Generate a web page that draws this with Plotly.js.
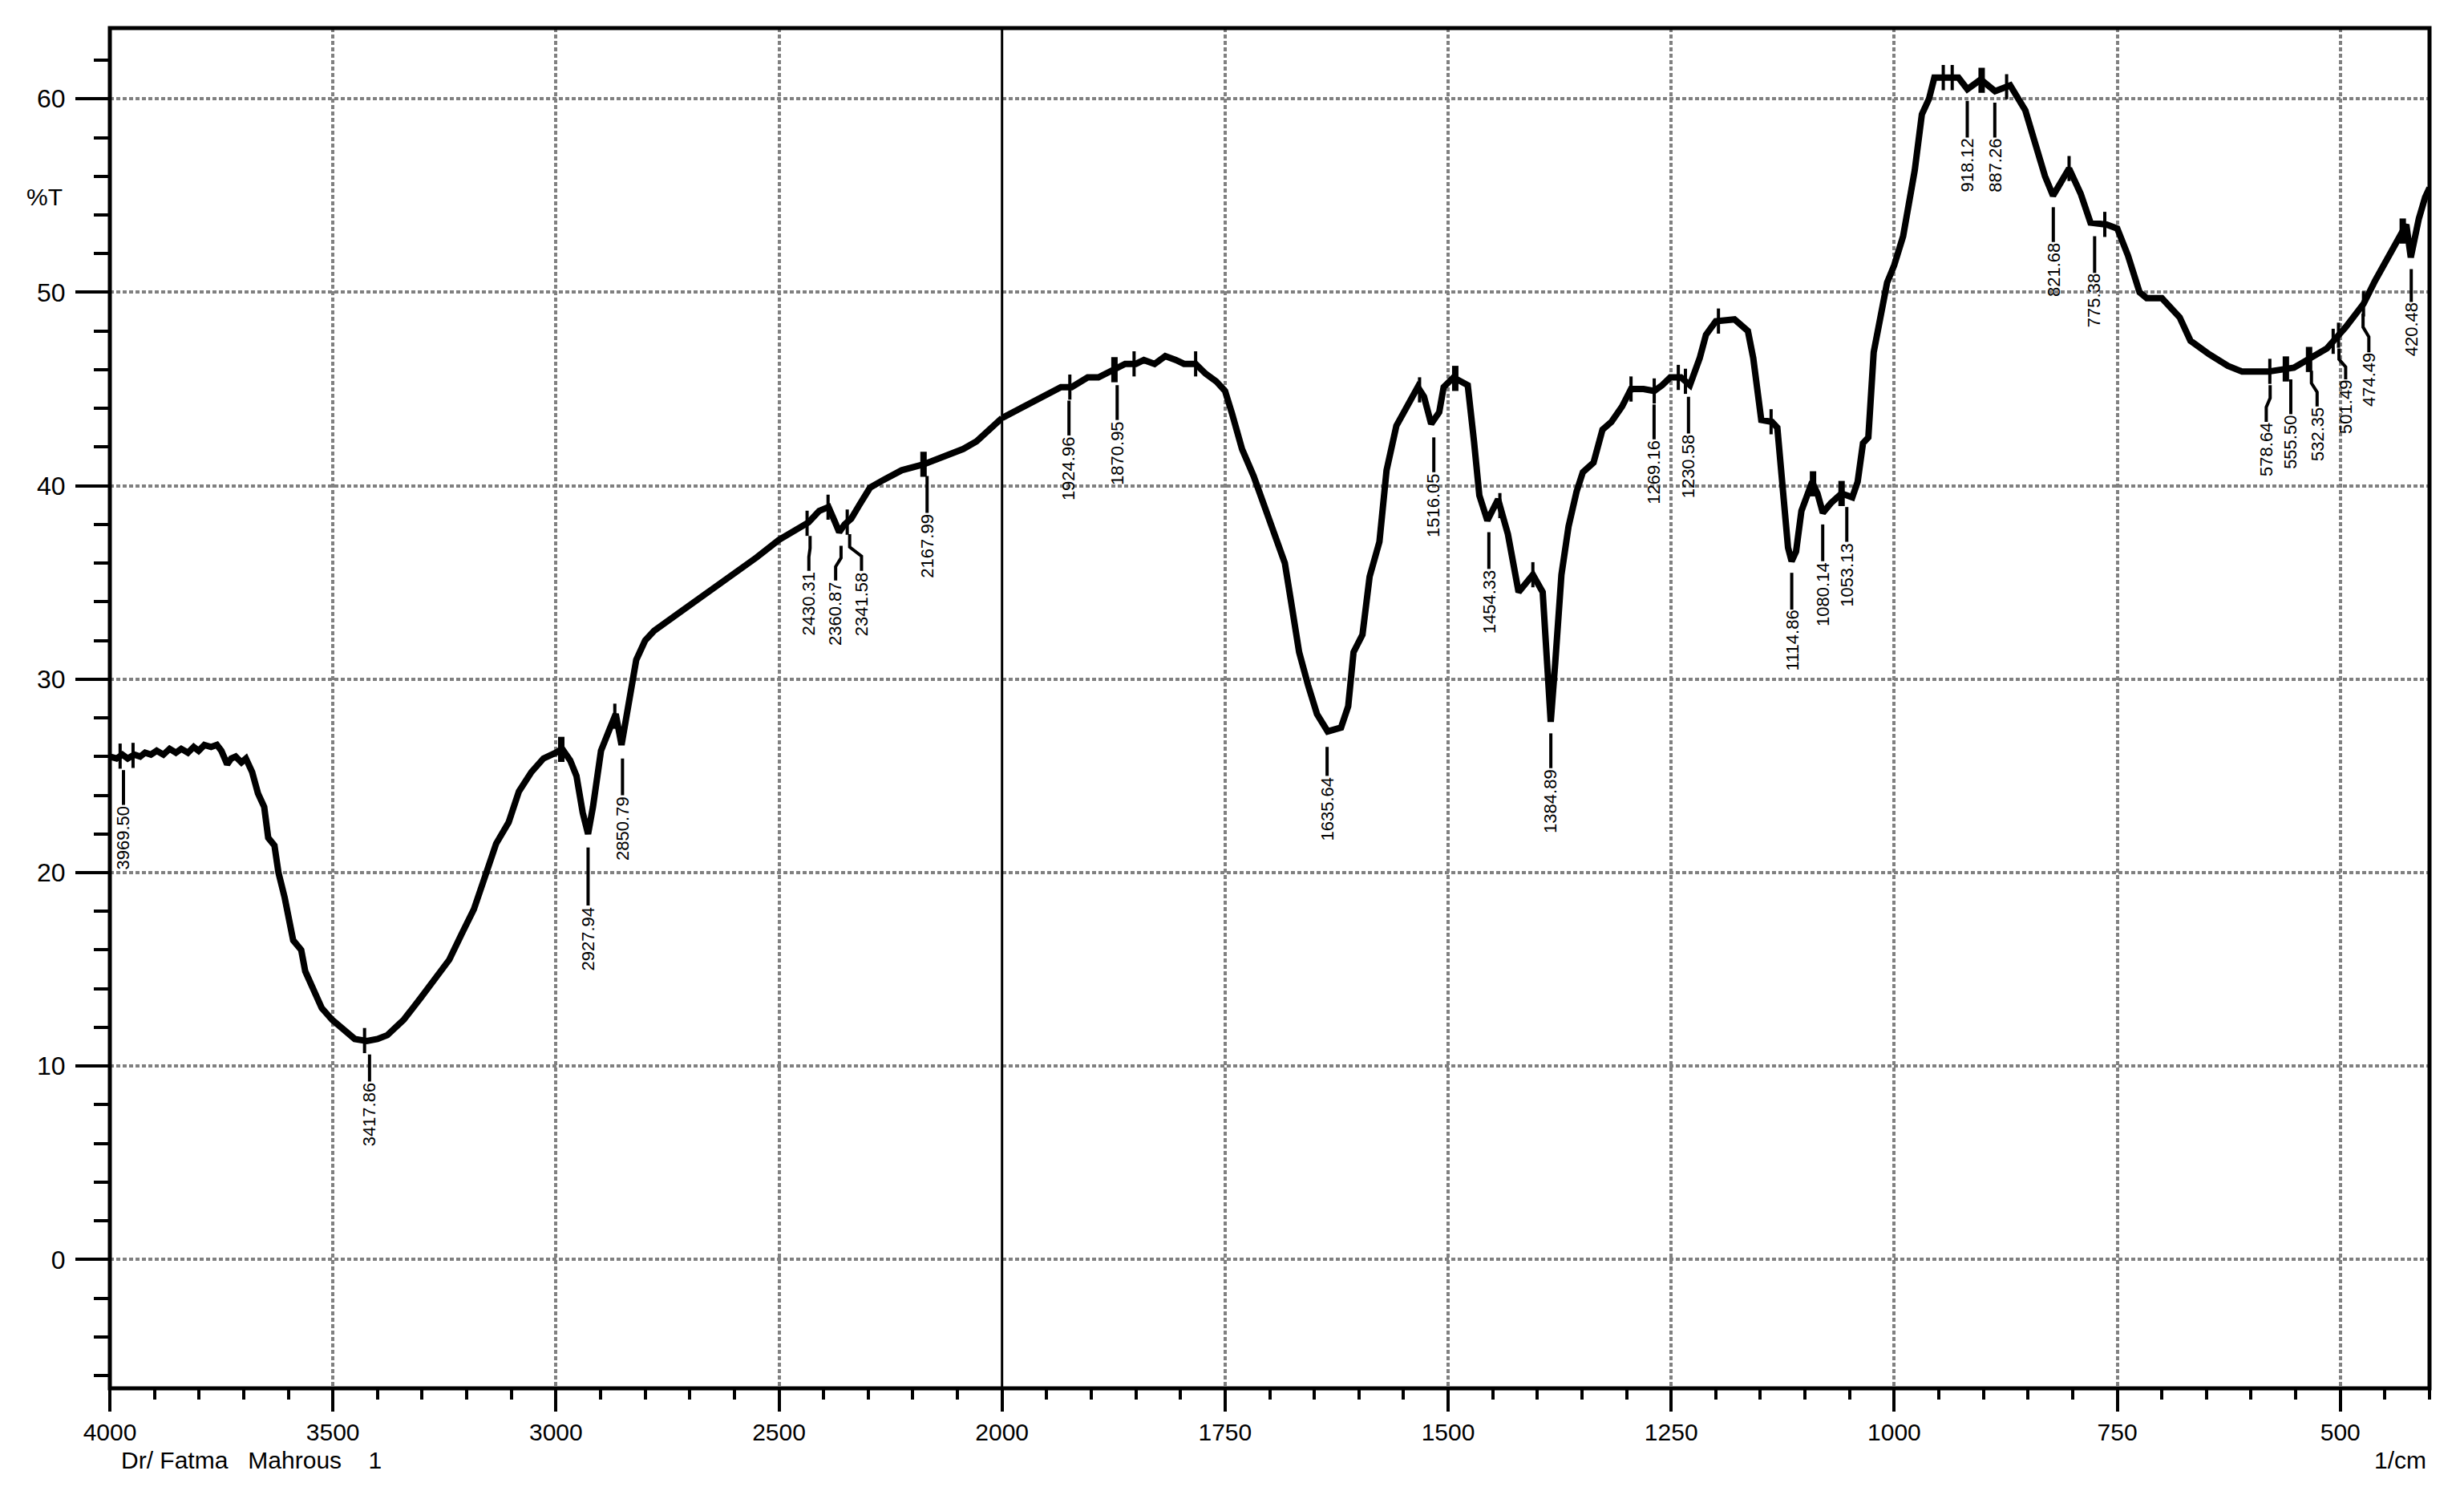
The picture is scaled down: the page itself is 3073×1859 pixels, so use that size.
<!DOCTYPE html>
<html>
<head>
<meta charset="utf-8">
<script src="https://cdn.plot.ly/plotly-3.0.1.min.js"></script>
<style>html,body{margin:0;padding:0;background:#fff;}#chart{width:3073px;height:1859px;}</style>
</head>
<body>
<div id="chart"></div>
<script>
// ---- spectrum (wavenumber 1/cm, %T) ----
const wavenumber = [4000,3985,3972,3960,3945,3932,3921,3908,3895,3880,3866,3852,3840,3825,3812,3801,3788,3773,3760,3750,3737,3728,3718,3705,3695,3688,3681,3668,3654,3645,3631,3622,3608,3589,3571,3562,3543,3525,3502,3479,3451,3424,3400,3378,3341,3304,3276,3239,3212,3184,3156,3134,3106,3083,3055,3028,3000,2986,2968,2954,2940,2928,2917,2899,2880,2866,2853,2839,2830,2820,2800,2780,2750,2700,2650,2600,2550,2500,2464,2434,2410,2389,2374,2365,2353,2338,2320,2296,2266,2225,2177,2129,2087,2057,2030,2000,1975,1952,1934,1922,1904,1892,1874,1862,1850,1841,1829,1817,1805,1796,1783,1772,1760,1750,1742,1731,1718,1708,1696,1683,1676,1667,1657,1647,1635,1620,1612,1606,1596,1588,1577,1569,1558,1545,1534,1527,1519,1510,1505,1494,1478,1471,1465,1456,1444,1433,1421,1405,1394,1389,1385,1380,1373,1365,1356,1349,1337,1327,1317,1305,1295,1281,1269,1260,1251,1239,1229,1218,1211,1200,1179,1164,1158,1149,1137,1131,1125,1119,1115,1110,1104,1092,1086,1080,1071,1059,1047,1041,1035,1029,1023,1014,1008,1000,990,977,969,961,955,940,928,918,903,887,870,853,841,831,822,804,791,780,762,750,738,725,717,700,680,668,647,626,610,581,552,536,515,494,474,461,445,432,426,421,412,405,400];
const transmittance = [26.0,25.9,26.1,25.9,26.1,26.0,26.2,26.1,26.3,26.1,26.4,26.2,26.4,26.2,26.5,26.3,26.6,26.5,26.6,26.3,25.6,25.9,26.0,25.7,25.9,25.6,25.2,24.1,23.4,21.8,21.4,20.0,18.7,16.5,16.0,14.9,14.0,13.0,12.4,11.9,11.4,11.3,11.4,11.6,12.4,13.5,14.4,15.5,16.8,18.1,20.0,21.5,22.6,24.2,25.2,25.9,26.2,26.4,25.8,25.0,23.1,22.0,23.4,26.3,27.4,28.2,26.6,28.5,29.7,31.0,32.0,32.5,33.0,33.8,34.6,35.5,36.3,37.2,37.7,38.1,38.7,38.9,38.1,37.6,38.0,38.3,39.0,39.9,40.3,40.8,41.1,41.5,41.9,42.3,42.9,43.5,44.1,44.6,45.1,45.1,45.6,45.6,46.0,46.3,46.3,46.5,46.3,46.7,46.5,46.3,46.3,45.8,45.4,44.9,43.7,41.9,40.5,39.2,37.7,36.0,34.0,31.4,29.7,28.2,27.3,27.5,28.6,31.4,32.3,35.3,37.1,40.8,43.1,44.1,45.1,44.6,43.2,43.8,45.1,45.6,45.2,42.3,39.5,38.2,39.3,37.5,34.5,35.4,34.5,30.8,27.8,30.8,35.4,37.9,39.7,40.7,41.2,42.9,43.3,44.1,45.0,45.0,44.9,45.2,45.6,45.6,45.2,46.6,47.8,48.5,48.6,48.0,46.6,43.4,43.3,43.0,40.2,36.8,36.1,36.6,38.7,40.2,39.6,38.6,39.1,39.6,39.4,40.2,42.2,42.5,46.9,48.9,50.5,51.4,52.9,56.3,59.2,60.0,61.1,61.1,61.1,60.5,61.0,60.4,60.7,59.4,57.5,56.0,55.0,56.4,55.1,53.6,53.5,53.3,51.9,50.0,49.7,49.7,48.7,47.5,46.8,46.2,45.9,45.9,46.1,46.5,47.1,48.2,49.4,50.6,51.9,53.0,53.5,51.8,53.8,54.9,55.4];

// ---- peak labels ----
const peakLabels = ['3969.50','3417.86','2927.94','2850.79','2430.31','2360.87','2341.58','2167.99','1924.96','1870.95','1635.64','1516.05','1454.33','1384.89','1269.16','1230.58','1114.86','1080.14','1053.13','918.12','887.26','821.68','775.38','578.64','555.50','532.35','501.49','474.49','420.48'];
const labelLineTop = [25.3,10.6,21.3,25.9,37.4,36.9,37.5,40.5,44.4,45.2,26.5,42.5,37.6,27.2,44.2,44.6,35.5,38.0,38.9,59.9,59.8,54.4,52.9,45.2,45.5,45.95,47.1,48.9,51.2];
const labelLineBottom = [23.5,9.2,18.3,24.0,35.6,35.1,35.6,38.6,42.6,43.4,25.0,40.7,35.7,25.4,42.4,42.7,33.6,36.1,37.1,58.0,58.0,52.6,51.0,43.3,43.7,44.1,45.5,46.9,49.5];
const labelTextWn = [3969.5,3417.86,2927.94,2850.79,2433,2373,2315,2167.99,1924.96,1870.95,1635.64,1516.05,1454.33,1384.89,1269.16,1230.58,1114.86,1080.14,1053.13,918.12,887.26,821.68,775.38,583,555.5,526,494,468,420.48];

// ---- peak-pick marks on the curve ----
const thinMarks = [3977,3948,3429,2868,2437,2390,2347,1924,1852,1783,1532,1442,1405,1295,1269,1242,1234,1197,1138,945,935,874,804,764,579,508,502,474];
const thickMarks = [2988,2176,1874,1492,1091,1059,902,561,535,430];

// ---- axis ticks ----
const leftTicks = [4000,3500,3000,2500,2000];
const rightTicks = [1750,1500,1250,1000,750,500];
const yTicks = [0,10,20,30,40,50,60];

const SPLIT = 2000;
const FONT = 'Liberation Sans, Arial, sans-serif';

function curveAt(w){
  for(let i=0;i<wavenumber.length-1;i++){
    const a=wavenumber[i], b=wavenumber[i+1];
    if(w<=a && w>=b){ const t=(a-w)/(a-b); return transmittance[i]+t*(transmittance[i+1]-transmittance[i]); }
  }
  return transmittance[transmittance.length-1];
}

const xl=[],yl=[],xr=[],yr=[];
wavenumber.forEach((w,i)=>{
  if(w>=SPLIT){xl.push(w);yl.push(transmittance[i]);}
  if(w<=SPLIT){xr.push(w);yr.push(transmittance[i]);}
});

function segTraces(list, width){
  const L={x:[],y:[]}, R={x:[],y:[]};
  list.forEach(w=>{
    const c=curveAt(w); const t=(w>=SPLIT)?L:R;
    t.x.push(w,w,null); t.y.push(c-0.65,c+0.65,null);
  });
  return [
    {x:L.x,y:L.y,xaxis:'x',yaxis:'y',mode:'lines',line:{color:'#000',width:width},hoverinfo:'skip'},
    {x:R.x,y:R.y,xaxis:'x2',yaxis:'y',mode:'lines',line:{color:'#000',width:width},hoverinfo:'skip'}
  ];
}

const LL={x:[],y:[]}, LR={x:[],y:[]};
const annotations=[];
peakLabels.forEach((lab,i)=>{
  const p=parseFloat(lab), q=labelTextWn[i];
  const top=labelLineTop[i], bot=labelLineBottom[i];
  const t=(p>=SPLIT)?LL:LR;
  if(Math.abs(q-p)>0.5){
    const m1=top-(top-bot)*0.35, m2=top-(top-bot)*0.6;
    t.x.push(p,p,q,q,null); t.y.push(top,m1,m2,bot,null);
  } else {
    t.x.push(p,p,null); t.y.push(top,bot,null);
  }
  annotations.push({
    text:lab, x:q, y:bot, xref:(p>=SPLIT)?'x':'x2', yref:'y',
    showarrow:false, textangle:-90, xanchor:'center', yanchor:'top',
    borderpad:0, font:{family:FONT,size:22,color:'#000'}
  });
});

annotations.push({text:'%T', xref:'paper', yref:'paper', x:-0.028, y:0.876, xanchor:'center', yanchor:'middle', showarrow:false, font:{family:FONT,size:30,color:'#000'}});
annotations.push({text:'Dr/\u00a0Fatma\u00a0\u00a0\u00a0Mahrous\u00a0\u00a0\u00a0\u00a01', xref:'paper', yref:'paper', x:0.004, y:-0.053, xanchor:'left', yanchor:'middle', showarrow:false, font:{family:FONT,size:30,color:'#000'}});
annotations.push({text:'1/cm', xref:'paper', yref:'paper', x:0.9993, y:-0.053, xanchor:'right', yanchor:'middle', showarrow:false, font:{family:FONT,size:30,color:'#000'}});

const data=[
  {x:xl,y:yl,xaxis:'x',yaxis:'y',mode:'lines',line:{color:'#000',width:8},hoverinfo:'skip'},
  {x:xr,y:yr,xaxis:'x2',yaxis:'y',mode:'lines',line:{color:'#000',width:8},hoverinfo:'skip'},
  ...segTraces(thinMarks,4),
  ...segTraces(thickMarks,8),
  {x:LL.x,y:LL.y,xaxis:'x',yaxis:'y',mode:'lines',line:{color:'#000',width:4},hoverinfo:'skip'},
  {x:LR.x,y:LR.y,xaxis:'x2',yaxis:'y',mode:'lines',line:{color:'#000',width:4},hoverinfo:'skip'}
];

const dom = 1000/2600;
const gridStyle = {showgrid:true, gridcolor:'#808080', griddash:'5px,3px', gridwidth:4, zeroline:false, showline:false};
const layout={
  width:3073, height:1859, margin:{l:137,r:43,t:35,b:128},
  paper_bgcolor:'#fff', plot_bgcolor:'#fff', showlegend:false,
  xaxis:Object.assign({domain:[0,dom], range:[4000,2000], tickmode:'array', tickvals:leftTicks, ticktext:leftTicks.map(String),
    ticks:'outside', ticklen:28, tickwidth:4, tickcolor:'#000', anchor:'y',
    tickfont:{family:FONT,size:30,color:'#000'},
    minor:{dtick:100, tick0:0, ticks:'outside', ticklen:13, tickwidth:4, tickcolor:'#000', showgrid:false}}, gridStyle),
  xaxis2:Object.assign({domain:[dom,1], range:[2000,400], tickmode:'array', tickvals:rightTicks, ticktext:rightTicks.map(String),
    ticks:'outside', ticklen:28, tickwidth:4, tickcolor:'#000', anchor:'y',
    tickfont:{family:FONT,size:30,color:'#000'},
    minor:{dtick:50, tick0:0, ticks:'outside', ticklen:13, tickwidth:4, tickcolor:'#000', showgrid:false}}, gridStyle),
  yaxis:Object.assign({range:[-6.66,63.66], tickmode:'array', tickvals:yTicks, ticktext:yTicks.map(String),
    ticks:'outside', ticklen:42, tickwidth:4, tickcolor:'#000', anchor:'x', ticklabelstandoff:6,
    tickfont:{family:FONT,size:32,color:'#000'},
    minor:{dtick:2, tick0:0, ticks:'outside', ticklen:19, tickwidth:4, tickcolor:'#000', showgrid:false}}, gridStyle),
  shapes:[
    {type:'rect', xref:'paper', yref:'paper', x0:0, x1:1, y0:0, y1:1, line:{color:'#000',width:5}, layer:'above'},
    {type:'line', xref:'paper', yref:'paper', x0:dom, x1:dom, y0:0, y1:1, line:{color:'#000',width:3}, layer:'above'}
  ],
  annotations:annotations
};
Plotly.newPlot('chart', data, layout, {staticPlot:true, displayModeBar:false});
</script>
</body>
</html>
